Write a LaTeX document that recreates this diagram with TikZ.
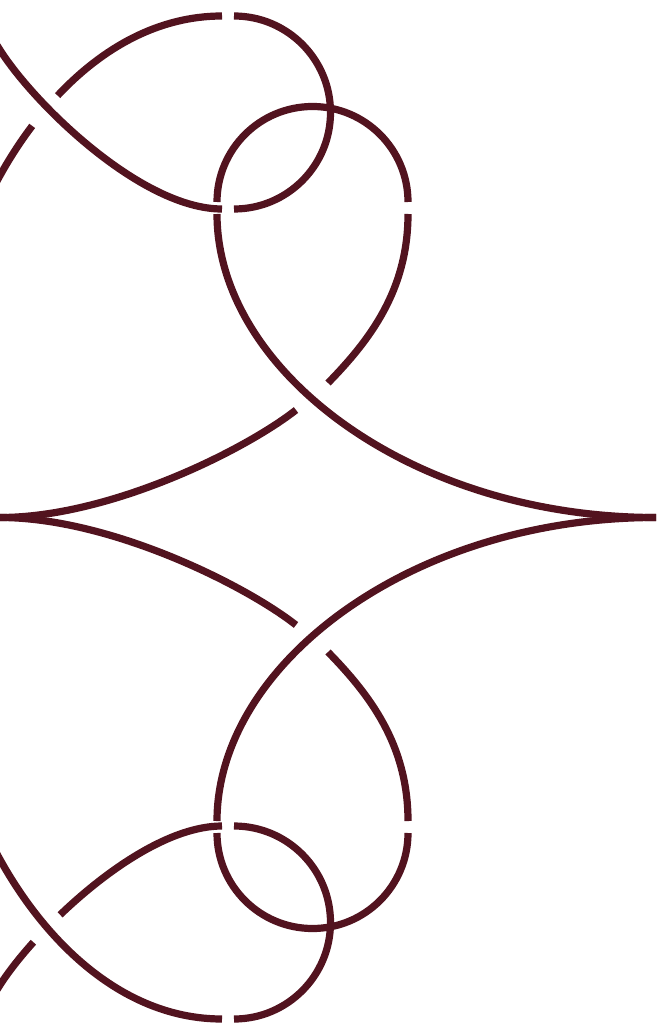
\documentclass[tikz,border=0pt]{standalone}
\usepackage{xcolor}
\definecolor{knotred}{RGB}{82,19,31}
\tikzset{
  strand/.style={draw=knotred, line width=4.1pt},
}

\begin{document}
\begin{tikzpicture}[x=0.02cm, y=-0.02cm]
  \useasboundingbox (0,0) rectangle (656,1023);
  \clip (0,0) rectangle (656,1023);

  % both halves: loops and the middle crossing
  \foreach \flip/\dy in {1/0, -1/1035} {
    \begin{scope}[shift={(0,\dy)}, yscale=\flip]
      \draw[strand] (234,16) arc[start angle=-90, end angle=90, radius=96.5];
      \draw[strand] (217,202) arc[start angle=180, end angle=360, radius=95.5];
      \draw[strand] (217,214) .. controls (217,370) and (410,517.5) .. (656,517.5) -- (670,517.5);
      \draw[strand] (408,214) .. controls (408,290) and (370,340) .. (328,383);
      \draw[strand] (296,410) .. controls (245,450) and (110,517.5) .. (0,517.5) -- (-10,517.5);
    \end{scope}
  }

  % top left crossing
  \draw[strand] (-7,39) -- (0,50) .. controls (35,105) and (142,209) .. (222,209);
  \draw[strand] (-10,194.5) .. controls (2,170.4) and (16.1,147.2) .. (32.2,125.9);
  \draw[strand] (57.6,95.6) .. controls (102.3,48) and (158.25,16) .. (222,16);

  % bottom left crossing
  \begin{scope}[shift={(0,1035)}, yscale=-1]
    \draw[strand] (-10,194.5) .. controls (38,98) and (120,16) .. (222,16);
    \draw[strand] (-7,39) -- (0,50) .. controls (7.9,62.4) and (19.4,77.2) .. (33.4,92.8);
    \draw[strand] (60.1,120.2) .. controls (107.6,165.7) and (170.4,209) .. (222,209);
  \end{scope}
\end{tikzpicture}
\end{document}
